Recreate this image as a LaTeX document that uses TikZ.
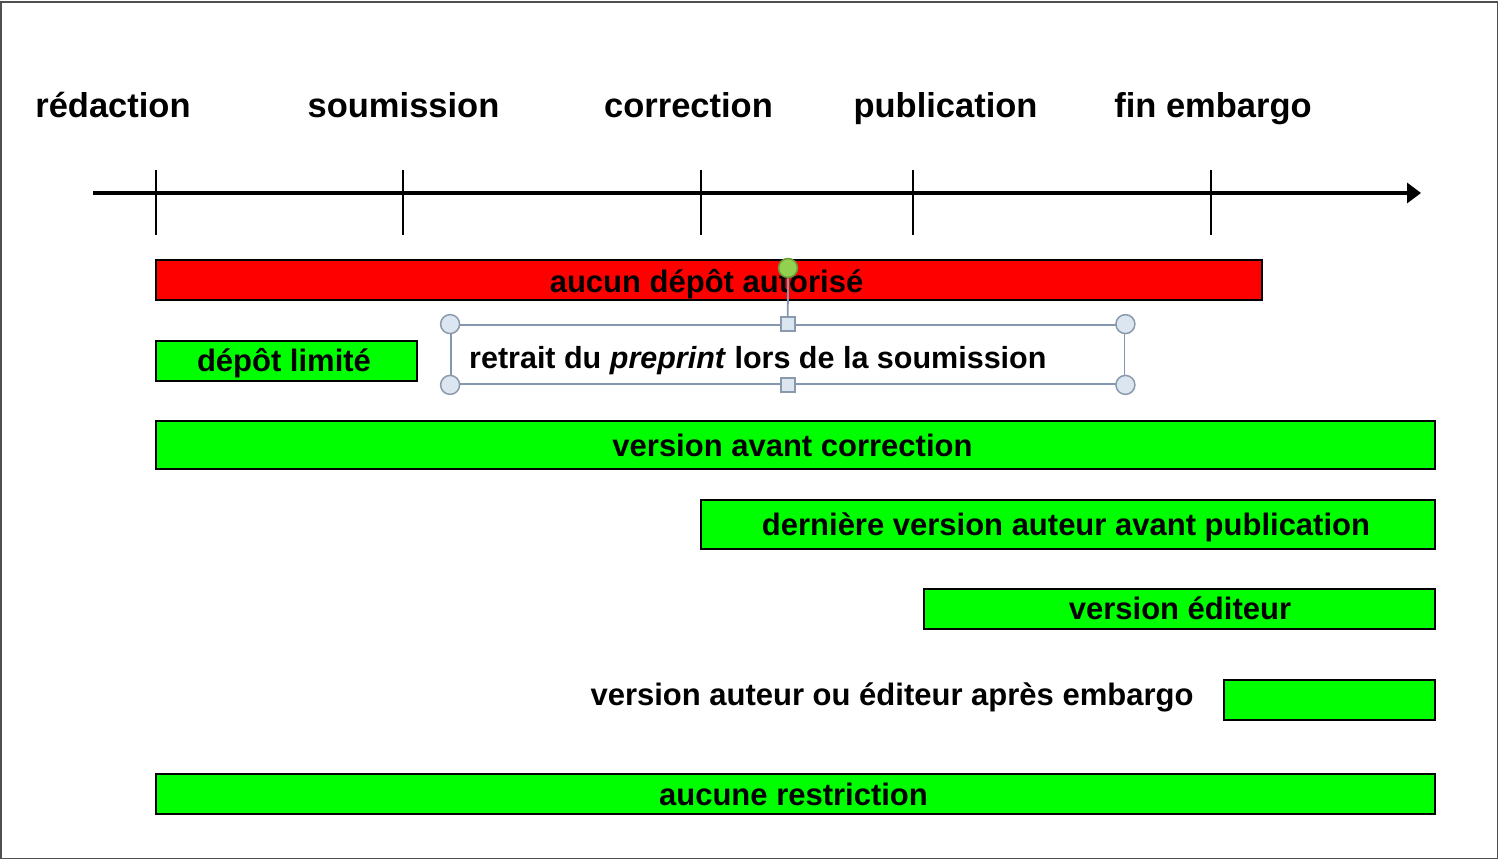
\documentclass[tikz,border=0pt]{standalone}
\usepackage{fontspec}
\setmainfont{Liberation Sans}
\usetikzlibrary{arrows.meta}
\definecolor{vgreen}{HTML}{00FF00}
\definecolor{vred}{HTML}{FF0000}
\definecolor{framegray}{HTML}{505050}
\definecolor{selblue}{HTML}{8497B0}
\definecolor{handlefill}{HTML}{DCE6F0}
\definecolor{handledraw}{HTML}{8A9AAC}
\definecolor{rotfill}{HTML}{92D050}
\definecolor{rotdraw}{HTML}{6A9A3A}
\tikzset{
  heading/.style={font=\fontsize{34.5}{40}\selectfont\bfseries, anchor=base, inner sep=0pt},
  bartext/.style={font=\fontsize{31}{36}\selectfont\bfseries, anchor=base, inner sep=0pt, text=black},
  greenbar/.style={draw=black, line width=2pt, fill=vgreen, inner sep=0pt},
  redbar/.style={draw=black, line width=2pt, fill=vred, inner sep=0pt},
  tickline/.style={line width=1.8pt},
  selframe/.style={draw=selblue, line width=1.8pt, inner sep=0pt, minimum width=673.5pt, minimum height=59pt},
  roundhandle/.style={circle, draw=handledraw, line width=1.5pt, fill=handlefill, minimum size=19pt, inner sep=0pt},
  squarehandle/.style={rectangle, draw=handledraw, line width=1.5pt, fill=handlefill, minimum size=14pt, inner sep=0pt},
  rothandle/.style={circle, draw=rotdraw, line width=1.5pt, fill=rotfill, minimum size=19pt, inner sep=0pt}
}
\begin{document}
\begin{tikzpicture}[x=1pt,y=-1pt]
\useasboundingbox (0,0) rectangle (1499,861);
\draw[framegray, line width=1.8pt] (1,2) rectangle (1497.5,858.5);

% headings
\node[heading] (hred) at (113,118) {rédaction};
\node[heading] (hsou) at (403.5,118) {soumission};
\node[heading] (hcor) at (688.5,118) {correction};
\node[heading] (hpub) at (945.5,118) {publication};
\node[heading] (hfin) at (1213,118) {fin embargo};

% axis
\coordinate (ax0) at (93,193);
\coordinate (ax1) at (1421,193);
\draw[line width=4pt, -{Triangle[length=14pt,width=20pt]}] (ax0) -- (ax1);
\foreach \x/\n in {156/ta,403/tb,701/tc,913/td,1211/te}{
  \coordinate (\n1) at (\x,170);
  \coordinate (\n2) at (\x,235);
  \draw[tickline] (\n1) -- (\n2);
}

% red bar
\node[redbar, minimum width=1106pt, minimum height=40pt] (red) at (709,280) {};
\node[bartext] (redt) at (706.5,292) {aucun dépôt autorisé};

% depot limite
\node[greenbar, minimum width=261pt, minimum height=40pt] (lim) at (286.5,360.5) {};
\node[bartext] (limt) at (284,371.5) {dépôt limité};

% selection box
\node[selframe] (sel) at (787.75,354.5) {};
\node[bartext, anchor=base west, font=\fontsize{30.5}{36}\selectfont\bfseries] (selt) at (469,368) {retrait du \textit{preprint} lors de la soumission};
\node[rothandle] (rot) at (788,268) {};
\draw[selblue, line width=1.8pt] (rot) -- (sel.north);
\node[roundhandle] (hnw) at (sel.north west) {};
\node[roundhandle] (hne) at (sel.north east) {};
\node[roundhandle] (hsw) at (sel.south west) {};
\node[roundhandle] (hse) at (sel.south east) {};
\node[squarehandle] (hn) at (sel.north) {};
\node[squarehandle] (hs) at (sel.south) {};

% version avant correction
\node[greenbar, minimum width=1279pt, minimum height=48pt] (vac) at (795.5,445) {};
\node[bartext] (vact) at (792.5,456) {version avant correction};

% derniere version
\node[greenbar, minimum width=734pt, minimum height=49pt] (dv) at (1068,524.5) {};
\node[bartext] (dvt) at (1066,535.5) {dernière version auteur avant publication};

% version editeur
\node[greenbar, minimum width=511pt, minimum height=40pt] (ve) at (1179.5,609) {};
\node[bartext] (vet) at (1180,619) {version éditeur};

% apres embargo
\node[bartext] (aet) at (892,705) {version auteur ou éditeur après embargo};
\node[greenbar, minimum width=211pt, minimum height=40pt] (ae) at (1329.5,700) {};

% aucune restriction
\node[greenbar, minimum width=1279pt, minimum height=40pt] (ar) at (795.5,794) {};
\node[bartext] (art) at (793.5,805.5) {aucune restriction};
\end{tikzpicture}
\end{document}
